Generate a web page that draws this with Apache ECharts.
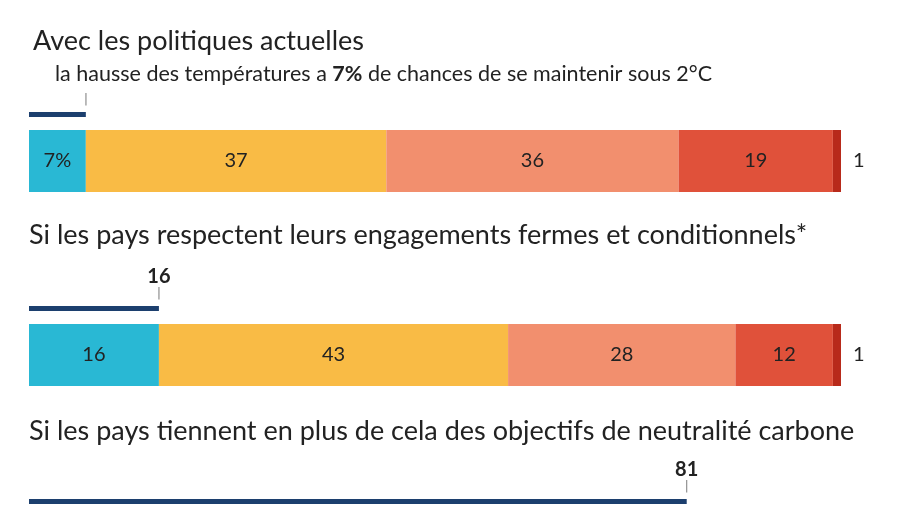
<!DOCTYPE html>
<html><head><meta charset="utf-8">
<script src="https://cdn.jsdelivr.net/npm/echarts@6/dist/echarts.min.js"></script>
<style>html,body{margin:0;padding:0;background:#fff}#c{width:900px;height:506px}</style>
</head><body><div id="c"></div>
<script>
const titles = ["Avec les politiques actuelles","Si les pays respectent leurs engagements fermes et conditionnels*","Si les pays tiennent en plus de cela des objectifs de neutralité carbone"];
const segNames = ["<1,5","1,5-2","2-2,5","2,5-3",">3"];
const row1 = [7,37,36,19,1];
const row2 = [16,43,28,12,1];
const below2 = [7,16,81];
const colors = ["#29b8d4","#f9bb45","#f28f6e","#e0513a","#b82a1a"];
const F = "Lato, 'Noto Sans', sans-serif";

const barTops = [130,324];
const lineTops = [112,306,499];
const grids = [], xAxes = [], yAxes = [], series = [];
function addGrid(top,h){
  const i = grids.length;
  grids.push({left:29,right:59,top:top,height:h});
  xAxes.push({type:'value',min:0,max:100,gridIndex:i,show:false});
  yAxes.push({type:'category',data:['a'],gridIndex:i,show:false});
  return i;
}
[row1,row2].forEach((row,r)=>{
  const g = addGrid(barTops[r],62);
  row.forEach((v,k)=>{
    const last = k===row.length-1;
    series.push({type:'bar',xAxisIndex:g,yAxisIndex:g,stack:'s'+r,barWidth:'100%',
      data:[v],itemStyle:{color:colors[k]},
      label:{show:true,position:last?'right':'inside',distance:12,
        formatter:(r===0&&k===0)?v+'%':String(v),
        color:'#222',fontSize:20,fontFamily:F}});
  });
});
below2.forEach((v,r)=>{
  const g = addGrid(lineTops[r],5);
  series.push({type:'bar',xAxisIndex:g,yAxisIndex:g,barWidth:'100%',data:[v],
    itemStyle:{color:'#1c3f6e'},
    label:{show:true,position:['100%',-6],align:'center',verticalAlign:'bottom',
      formatter: r===0 ? '{t||}' : '{v|'+v+'}\n{t||}',
      rich:{v:{fontSize:20,fontWeight:'bold',color:'#222',fontFamily:F,lineHeight:22},
            t:{fontSize:13,color:'#888',fontFamily:'DejaVu Sans',lineHeight:12}}}});
});

const chart = echarts.init(document.getElementById('c'));
chart.setOption({
  animation:false,
  grid:grids,xAxis:xAxes,yAxis:yAxes,series:series,
  graphic:[
    {type:'text',left:33,top:28,style:{text:titles[0],fontSize:27,fontFamily:F,fill:'#222'}},
    {type:'text',left:55,top:63,style:{text:'{n|la hausse des températures a }{b|7%}{n| de chances de se maintenir sous 2°C}',
      rich:{n:{fontSize:21.5,fontFamily:F,fill:'#222'},b:{fontSize:21.5,fontFamily:F,fontWeight:'bold',fill:'#222'}}}},
    {type:'text',left:29,top:222,style:{text:titles[1],fontSize:27,fontFamily:F,fill:'#222'}},
    {type:'text',left:29,top:418,style:{text:titles[2],fontSize:27,fontFamily:F,fill:'#222'}}
  ]
});
</script></body></html>
